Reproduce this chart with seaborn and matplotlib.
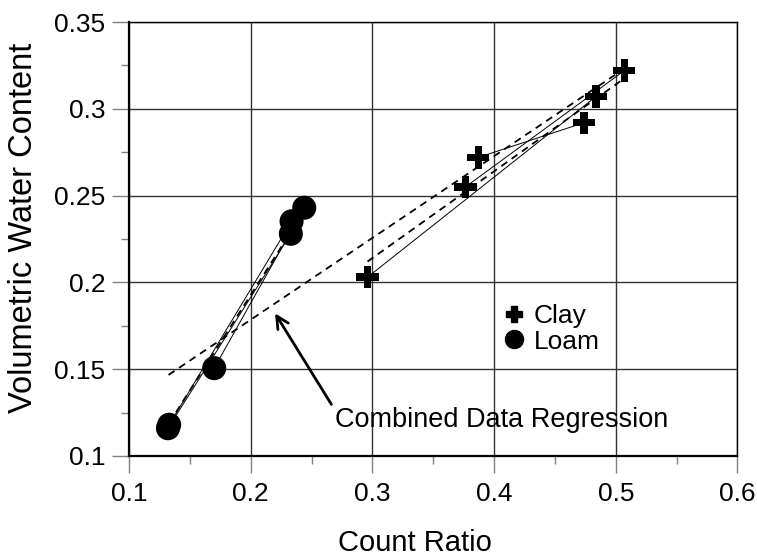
import matplotlib
matplotlib.use("Agg")
import matplotlib.pyplot as plt
from matplotlib.ticker import MultipleLocator
import seaborn as sns
import pandas as pd

# measured points
clay_x = [0.296, 0.3765, 0.387, 0.474, 0.4836, 0.507]
clay_y = [0.203, 0.255, 0.272, 0.292, 0.307, 0.322]
loam_x = [0.132, 0.133, 0.170, 0.233, 0.2336, 0.244]
loam_y = [0.116, 0.118, 0.1506, 0.228, 0.2352, 0.243]

# replicate calibration pairs (index into the lists above)
clay_pairs = [(0, 4), (1, 5), (2, 3)]
loam_pairs = [(0, 3), (1, 4), (2, 5)]

# regression lines (x0, x1), (y0, y1)
clay_fit_x = [0.296, 0.508]
clay_fit_y = [0.212, 0.318]
loam_fit_x = [0.133, 0.232]
loam_fit_y = [0.119, 0.228]
comb_fit_x = [0.1325, 0.508]
comb_fit_y = [0.1467, 0.3236]

x_ticks = [0.1, 0.2, 0.3, 0.4, 0.5, 0.6]
x_labels = ["0.1", "0.2", "0.3", "0.4", "0.5", "0.6"]
y_ticks = [0.1, 0.15, 0.2, 0.25, 0.3, 0.35]
y_labels = ["0.1", "0.15", "0.2", "0.25", "0.3", "0.35"]

df = pd.DataFrame({
    "x": clay_x + loam_x,
    "y": clay_y + loam_y,
    "soil": ["Clay"] * len(clay_x) + ["Loam"] * len(loam_x),
})

sns.set_theme(style="white")
plt.rcParams["font.family"] = ["Liberation Sans", "DejaVu Sans"]
plt.rcParams["text.color"] = "black"
plt.rcParams["axes.labelcolor"] = "black"

fig = plt.figure(figsize=(7.57, 5.59), dpi=100)
ax = fig.add_axes([0.1704, 0.1843, 0.8038, 0.7763])

# thin replicate lines
for xs, ys, pairs in [(clay_x, clay_y, clay_pairs), (loam_x, loam_y, loam_pairs)]:
    for i, j in pairs:
        ax.plot([xs[i], xs[j]], [ys[i], ys[j]], color="black", lw=0.7, zorder=3)

# dashed regressions
for fx, fy in [(clay_fit_x, clay_fit_y), (loam_fit_x, loam_fit_y), (comb_fit_x, comb_fit_y)]:
    ax.plot(fx, fy, color="black", lw=1.3, linestyle=(0, (4, 3)), zorder=3)

sns.scatterplot(
    data=df, x="x", y="y", style="soil",
    markers={"Clay": "P", "Loam": "o"},
    size="soil", sizes={"Clay": 260, "Loam": 300},
    color="black", edgecolor="black", linewidth=0,
    legend=False, ax=ax, zorder=5,
)

ax.set_xlim(0.1, 0.6)
ax.set_ylim(0.1, 0.35)
ax.set_xticks(x_ticks)
ax.set_xticklabels(x_labels)
ax.set_yticks(y_ticks)
ax.set_yticklabels(y_labels)
ax.xaxis.set_minor_locator(MultipleLocator(0.05))
ax.yaxis.set_minor_locator(MultipleLocator(0.025))

ax.grid(True, which="major", color="#333333", lw=1.0)
ax.set_axisbelow(True)
for s in ax.spines.values():
    s.set_color("black")
    s.set_linewidth(1.0)
ax.spines["left"].set_linewidth(1.6)
ax.spines["bottom"].set_linewidth(1.6)

ax.tick_params(which="major", direction="out", length=12, width=1,
               color="#808080", labelsize=19, labelcolor="black",
               bottom=True, left=True)
ax.tick_params(axis="x", which="major", pad=7)
ax.tick_params(axis="y", which="major", pad=5)
ax.tick_params(which="minor", direction="out", length=6, width=1,
               color="#808080", bottom=True, left=True)

ax.set_xlabel("Count Ratio", fontsize=21, color="black")
ax.set_ylabel("Volumetric Water Content", fontsize=23.5, color="black")
ax.xaxis.set_label_coords(0.47, -0.168)
ax.yaxis.set_label_coords(-0.148, 0.525)

# legend
h_clay = plt.Line2D([], [], marker="P", color="black", linestyle="none", markersize=12)
h_loam = plt.Line2D([], [], marker="o", color="black", linestyle="none", markersize=13)
ax.legend([h_clay, h_loam], ["Clay", "Loam"], loc="upper left",
          bbox_to_anchor=(0.585, 0.38), frameon=False, fontsize=19,
          handletextpad=0.15, labelspacing=0.05, borderpad=0, handlelength=1.2,
          labelcolor="black")

ax.annotate("Combined Data Regression", xy=(0.220, 0.1822), xytext=(0.269, 0.1207),
            fontsize=19.5, ha="left", va="center", color="black",
            arrowprops=dict(arrowstyle="->", lw=2, color="black",
                            shrinkA=0, shrinkB=0, mutation_scale=22,
                            relpos=(0, 0.9)))

fig.savefig("out.png", dpi=100)
